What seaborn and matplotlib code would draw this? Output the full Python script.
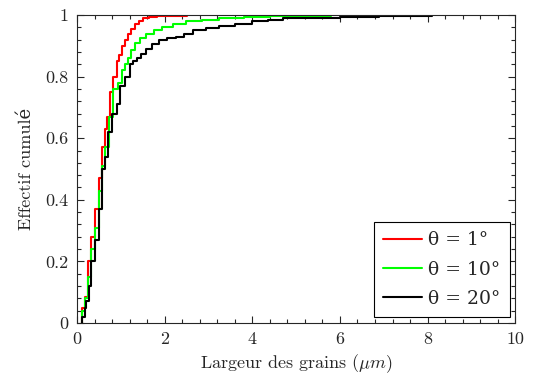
import numpy as np
import pandas as pd
import matplotlib
matplotlib.use('Agg')
import matplotlib.pyplot as plt
from matplotlib.ticker import MultipleLocator, FuncFormatter
import seaborn as sns

# cumulative curves (step plots)
red_x = [0.11, 0.11, 0.18, 0.26, 0.33, 0.41, 0.49, 0.56, 0.64, 0.69, 0.75, 0.83, 0.91, 0.96, 1.02,
         1.09, 1.17, 1.24, 1.32, 1.41, 1.51, 1.65, 1.82, 2.5]
red_y = [0.0, 0.05, 0.085, 0.2, 0.28, 0.37, 0.47, 0.57, 0.63, 0.67, 0.75, 0.80, 0.85, 0.87, 0.90,
         0.92, 0.94, 0.955, 0.97, 0.98, 0.99, 0.995, 0.998, 0.998]

green_x = [0.12, 0.12, 0.19, 0.26, 0.33, 0.41, 0.49, 0.56, 0.64, 0.74, 0.83, 0.94, 1.02, 1.09, 1.17,
           1.24, 1.32, 1.44, 1.57, 1.75, 1.95, 2.2, 2.49, 2.85, 3.25, 3.8, 4.4, 5.8]
green_y = [0.0, 0.04, 0.08, 0.15, 0.24, 0.31, 0.43, 0.51, 0.57, 0.67, 0.76, 0.78, 0.82, 0.84, 0.86,
           0.885, 0.91, 0.925, 0.94, 0.95, 0.96, 0.97, 0.98, 0.985, 0.99, 0.993, 0.996, 0.996]

black_x = [0.11, 0.11, 0.18, 0.21, 0.27, 0.33, 0.41, 0.49, 0.56, 0.64, 0.71, 0.79, 0.91, 0.98, 1.09,
           1.21, 1.28, 1.36, 1.46, 1.57, 1.72, 1.88, 2.06, 2.26, 2.45, 2.64, 2.95, 3.25, 3.6, 4.0,
           4.35, 4.7, 5.3, 6.0, 6.9, 8.1]
black_y = [0.0, 0.02, 0.05, 0.07, 0.12, 0.2, 0.27, 0.37, 0.5, 0.54, 0.62, 0.68, 0.71, 0.77, 0.8,
           0.84, 0.85, 0.86, 0.875, 0.89, 0.905, 0.92, 0.925, 0.93, 0.94, 0.95, 0.958, 0.965, 0.972, 0.98,
           0.985, 0.99, 0.992, 0.994, 0.996, 0.996]

labels = ['θ = 1°', 'θ = 10°', 'θ = 20°']
colors = ['#ff0000', '#00ff00', '#000000']

df = pd.concat([
    pd.DataFrame({'x': red_x, 'y': red_y, 'serie': labels[0]}),
    pd.DataFrame({'x': green_x, 'y': green_y, 'serie': labels[1]}),
    pd.DataFrame({'x': black_x, 'y': black_y, 'serie': labels[2]}),
])

sns.set_style('ticks')
plt.rcParams['font.family'] = ['cmr10', 'DejaVu Serif']
plt.rcParams['mathtext.fontset'] = 'cm'
plt.rcParams['axes.formatter.use_mathtext'] = True
plt.rcParams['axes.unicode_minus'] = False

fig = plt.figure(figsize=(5.35, 3.76), dpi=100)
ax = fig.add_axes([0.144, 0.141, 0.819, 0.819])

sns.lineplot(data=df, x='x', y='y', hue='serie', palette=colors, sort=False,
             drawstyle='steps-post', linewidth=1.5, ax=ax, estimator=None)

ax.set_xlim(0, 10)
ax.set_ylim(0, 1)
ax.xaxis.set_major_locator(MultipleLocator(2))
ax.xaxis.set_minor_locator(MultipleLocator(0.4))
ax.yaxis.set_major_locator(MultipleLocator(0.2))
ax.yaxis.set_minor_locator(MultipleLocator(0.04))
fmt = FuncFormatter(lambda v, p: '%g' % round(v, 2))
ax.xaxis.set_major_formatter(fmt)
ax.yaxis.set_major_formatter(fmt)
ax.tick_params(which='both', direction='in', top=True, right=True, labelsize=13, pad=6)
ax.tick_params(which='major', length=5, width=0.8)
ax.tick_params(which='minor', length=3, width=0.8)
for s in ax.spines.values():
    s.set_linewidth(0.8)

ax.set_xlabel(r'Largeur des grains ($\mu m$)', fontsize=13, labelpad=4)
ax.set_ylabel('Effectif cumulé', fontsize=13, labelpad=8)

leg = ax.legend(loc='lower right', fontsize=13.5, handlelength=2.1, frameon=True,
                fancybox=False, edgecolor='black', framealpha=1,
                borderaxespad=0.3, handletextpad=0.3, labelspacing=0.6,
                borderpad=0.5)
leg.get_frame().set_linewidth(0.8)
for t in leg.get_texts():
    t.set_family(['DejaVu Serif'])

fig.savefig('out.png', dpi=100)
